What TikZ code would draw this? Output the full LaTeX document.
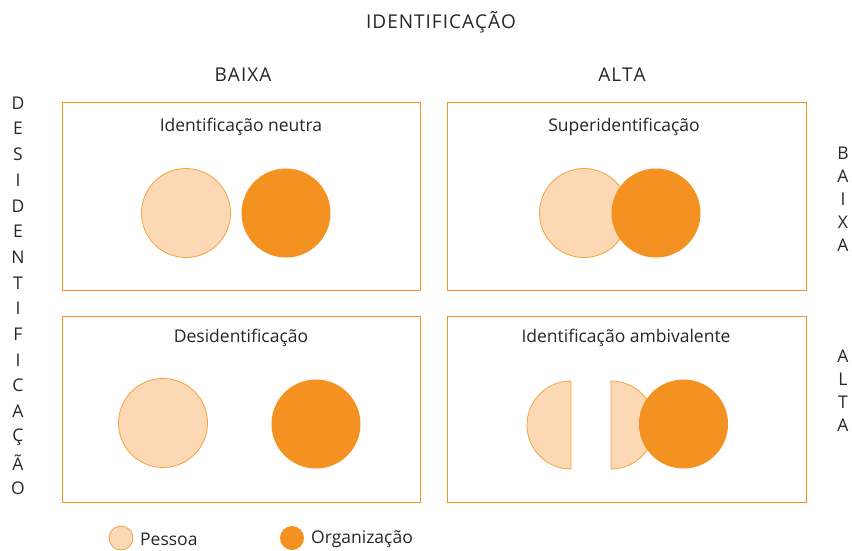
\documentclass[tikz,border=0pt]{standalone}
\usepackage{fontspec}
\setmainfont{Open Sans}
\definecolor{org}{HTML}{F39220}
\definecolor{pes}{HTML}{FCD9B4}
\definecolor{pesline}{HTML}{F2A23E}
\begin{document}
\begin{tikzpicture}[x=1pt,y=-1pt,
  panel/.style={draw=org, line width=0.9pt},
  pessoa/.style={fill=pes, draw=pesline, line width=0.8pt},
  organ/.style={fill=org},
  lbl/.style={font=\fontsize{17.5}{20}\selectfont, text=black!85, inner sep=0pt},
  hdr/.style={font=\fontsize{19}{22}\selectfont, text=black!85, inner sep=0pt},
  vl/.style={font=\fontsize{17.5}{20}\selectfont, text=black!85, inner sep=0pt}]
\useasboundingbox (0,0) rectangle (852,550);
% headers
\node[hdr] (top) at (441,22) {I\kern1pt D\kern1pt E\kern1pt N\kern1pt T\kern1pt I\kern1pt F\kern1pt I\kern1pt C\kern1pt A\kern1pt Ç\kern1pt Ã\kern1pt O};
\node[hdr] (baixa) at (243,75) {B\kern1pt A\kern1pt I\kern1pt X\kern1pt A};
\node[hdr] (alta) at (622,75) {A\kern1pt L\kern1pt T\kern1pt A};
% panels
\draw[panel] (62,102) rectangle (420,290);
\draw[panel] (447,102) rectangle (806,290);
\draw[panel] (62,316) rectangle (420,502);
\draw[panel] (447,316) rectangle (806,502);
% titles
\node[lbl] (t1) at (241,127) {Identificação neutra};
\node[lbl] (t2) at (624,127) {Superidentificação};
\node[lbl] (t3) at (241,338) {Desidentificação};
\node[lbl] (t4) at (626,338) {Identificação ambivalente};
% TL
\draw[pessoa] (186,213) circle (44.5);
\fill[organ] (286,213) circle (44.5);
% TR
\draw[pessoa] (584,213) circle (44.5);
\fill[organ] (656,213) circle (44.5);
% BL
\draw[pessoa] (163,423) circle (44.5);
\fill[organ] (316,424) circle (44.5);
% BR
\draw[pessoa] (571,381) arc[start angle=270, end angle=90, radius=44] -- cycle;
\draw[pessoa] (611,381) arc[start angle=-90, end angle=90, radius=44] -- cycle;
\fill[organ] (683.5,424) circle (44.5);
% left vertical
\foreach \ch/\i in {D/0,E/1,S/2,I/3,D/4,E/5,N/6,T/7,I/8,F/9,I/10,C/11,A/12,Ç/13,Ã/14,O/15}
  \node[vl] (l\i) at (18,{103+\i*25.7}) {\ch};
% right vertical
\foreach \ch/\i in {B/0,A/1,I/2,X/3,A/4}
  \node[vl] (rb\i) at (843,{153+\i*23}) {\ch};
\foreach \ch/\i in {A/0,L/1,T/2,A/3}
  \node[vl] (ra\i) at (843,{356+\i*23}) {\ch};
% legend
\draw[pessoa] (121,538) circle (12);
\node[lbl, anchor=west] (lp) at (140,539) {Pessoa};
\fill[organ] (292,538) circle (12);
\node[lbl, anchor=west] (lo) at (311,539) {Organização};
\end{tikzpicture}
\end{document}
